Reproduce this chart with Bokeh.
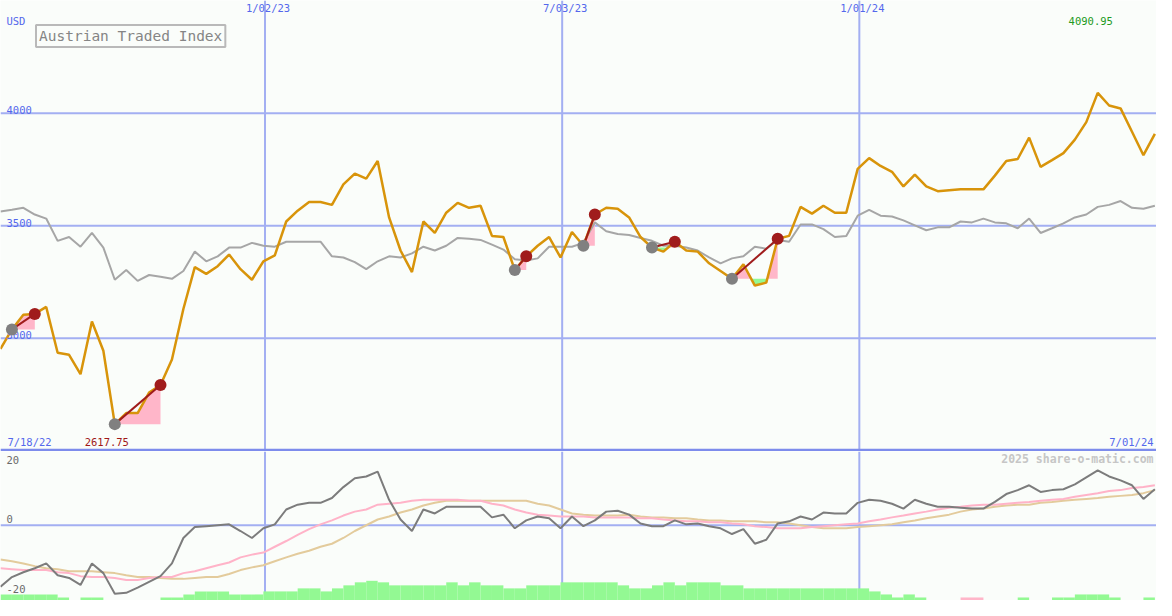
import numpy as np
import pandas as pd
from bokeh.plotting import figure
from bokeh.models import Span, Label, Range1d
from bokeh.layouts import column
from bokeh.embed import file_html
from bokeh.resources import INLINE
from bokeh.core.properties import value

# ---------------- data ----------------
first_date = "2022-07-24"
dates = pd.date_range(first_date, periods=102, freq="7D")

price = [2952, 3039, 3104, 3108, 3139, 2935, 2926, 2840, 3074, 2944,
         2617.75, 2667, 2667, 2758, 2792, 2905, 3130, 3316, 3286, 3320,
         3372, 3307, 3260, 3342, 3368, 3519, 3567, 3606, 3606, 3593,
         3684, 3732, 3710, 3788, 3537, 3390, 3294, 3519, 3468, 3558,
         3602, 3580, 3589, 3455, 3450, 3303, 3364, 3411, 3450, 3359,
         3472, 3411, 3550, 3580, 3576, 3537, 3450, 3403, 3385, 3429,
         3390, 3385, 3333, 3299, 3264, 3329, 3234, 3247, 3442, 3455,
         3584, 3554, 3589, 3558, 3558, 3753, 3801, 3766, 3740, 3675,
         3727, 3675, 3654, 3658, 3662, 3662, 3662, 3723, 3788, 3797,
         3892, 3762, 3792, 3823, 3883, 3961, 4090.95, 4035, 4022, 3918,
         3814, 3909]

compare = [3563, 3571, 3580, 3550, 3532, 3433, 3450, 3407, 3468, 3403,
           3260, 3303, 3255, 3281, 3273, 3264, 3299, 3385, 3342, 3364,
           3403, 3403, 3424, 3411, 3407, 3429, 3429, 3429, 3429, 3364,
           3359, 3338, 3307, 3342, 3364, 3359, 3377, 3407, 3390, 3411,
           3446, 3442, 3437, 3416, 3394, 3351, 3346, 3355, 3407, 3407,
           3407, 3424, 3515, 3476, 3463, 3459, 3446, 3433, 3411, 3411,
           3403, 3390, 3359, 3333, 3355, 3364, 3407, 3398, 3437, 3429,
           3506, 3506, 3485, 3450, 3455, 3545, 3571, 3545, 3541, 3524,
           3502, 3480, 3493, 3493, 3519, 3515, 3532, 3515, 3511, 3489,
           3532, 3468, 3489, 3511, 3537, 3550, 3584, 3593, 3610, 3580,
           3576, 3589]

osc = [-20.3, -17.1, -15.5, -14.2, -12.6, -16.5, -17.4, -19.7, -12.6, -15.8,
       -22.6, -22.3, -20.6, -18.7, -16.8, -12.6, -4.2, -0.6, -0.3, 0.0,
       0.3, -1.9, -4.2, -1.0, 0.3, 5.2, 6.8, 7.4, 7.4, 9.0,
       12.6, 15.5, 16.1, 17.7, 8.4, 1.9, -1.9, 5.2, 3.9, 6.1,
       6.1, 6.1, 6.1, 2.6, 3.5, -1.0, 1.6, 2.9, 2.3, -1.0,
       2.9, -0.3, 1.6, 4.5, 4.8, 3.5, 0.6, -0.3, -0.3, 1.6,
       0.3, 0.6, -0.3, -1.0, -2.9, -1.3, -6.1, -4.8, 0.6, 1.3,
       2.9, 1.9, 4.2, 3.9, 3.9, 7.4, 8.4, 8.1, 7.1, 5.5,
       8.4, 7.1, 6.1, 6.1, 5.8, 5.5, 5.5, 7.7, 10.3, 11.6,
       13.2, 11.0, 11.6, 11.9, 13.5, 15.8, 18.1, 16.1, 14.8, 13.2,
       8.7, 11.9]

osc_fast = [-14.2, -14.5, -14.8, -14.8, -14.8, -15.5, -15.8, -16.8, -17.1, -17.1,
            -17.4, -18.1, -18.1, -17.4, -17.1, -17.1, -15.8, -15.2, -14.2, -13.2,
            -12.3, -10.6, -9.7, -9.0, -7.1, -5.2, -3.2, -1.3, 0.3, 1.6,
            3.2, 4.5, 5.2, 6.8, 7.1, 7.4, 8.1, 8.4, 8.4, 8.4,
            8.4, 8.1, 8.1, 7.1, 6.5, 5.2, 4.2, 3.5, 3.2, 2.9,
            2.9, 2.9, 2.6, 2.6, 2.6, 2.6, 2.3, 2.3, 1.9, 1.6,
            1.3, 1.3, 1.0, 1.0, 0.6, 0.3, -0.3, -0.6, -1.0, -1.0,
            -1.0, -0.6, -0.3, 0.0, 0.3, 0.6, 1.3, 1.9, 2.6, 3.2,
            3.9, 4.5, 5.2, 5.8, 6.1, 6.5, 6.8, 6.8, 7.1, 7.4,
            7.7, 8.1, 8.4, 8.7, 9.4, 10.0, 10.6, 11.3, 11.6, 12.3,
            12.6, 13.2]

osc_slow = [-11.3, -11.9, -12.6, -13.5, -14.2, -14.5, -15.2, -15.2, -15.2, -15.5,
            -15.8, -16.5, -17.1, -17.1, -17.4, -17.7, -17.7, -17.4, -17.1, -17.1,
            -16.1, -14.8, -13.9, -13.2, -11.9, -10.6, -9.4, -8.4, -7.1, -6.1,
            -4.2, -1.9, 0.0, 1.9, 2.9, 4.2, 5.2, 6.5, 7.4, 8.1,
            8.1, 8.1, 8.1, 8.1, 8.1, 8.1, 8.1, 7.1, 6.5, 5.2,
            3.9, 3.5, 3.2, 3.2, 3.2, 3.5, 2.9, 2.6, 2.6, 2.3,
            2.3, 1.9, 1.6, 1.6, 1.3, 1.3, 1.3, 1.0, 1.0, 0.6,
            0.0, -0.6, -1.0, -1.0, -1.0, -0.6, -0.3, 0.0, 0.3, 1.0,
            1.6, 2.3, 2.9, 3.5, 4.5, 5.2, 5.5, 6.1, 6.5, 6.8,
            6.8, 7.4, 7.7, 8.1, 8.4, 8.7, 9.0, 9.4, 9.7, 10.0,
            10.6, 11.6]

strength = [2, 2, 2, 2, 2, 1, 0, 1, 1, 0,
            0, 0, 0, 0, 1, 1, 2, 3, 3, 3,
            2, 2, 2, 3, 3, 3, 4, 4, 3, 4,
            5, 6, 6.5, 6, 5, 5, 5, 5, 5, 6,
            5, 6, 5, 5, 4, 4, 5, 5, 5, 6,
            6, 6, 6, 6, 5, 4, 4, 5, 6, 5,
            6, 6, 6, 5, 5, 4, 4, 4, 4, 4,
            4, 4, 4, 4, 4, 4, 3, 2, 1, 2,
            1, 0, 0, 0, -1, -1, 0, 0, 0, 1,
            0, 0, 1, 1, 2, 2, 2, 1, 0, 0,
            1, 0]

signal_start = ["2022-07-31", "2022-10-02", "2023-06-04", "2023-07-16", "2023-08-27", "2023-10-15"]
signal_end = ["2022-08-14", "2022-10-30", "2023-06-11", "2023-07-23", "2023-09-10", "2023-11-12"]

price_ticks = [4000, 3500, 3000]
osc_ticks = [20, 0, -20]
date_lines = ["2023-01-02", "2023-07-03", "2024-01-01"]
date_line_labels = ["1/02/23", "7/03/23", "1/01/24"]
first_label = "7/18/22"
last_label = "7/01/24"
last_date = "2024-07-01"
title = "Austrian Traded Index"
currency = "USD"
credit = "2025 share-o-matic.com"

# ---------------- styling ----------------
W, H1, H2 = 1156, 451, 149
SX = W / 1172.0
SY1 = H1 / 463.5
SY2 = H2 / 152.5
BG = "#fafdfa"
GRID = "#a3aff2"
SEP = "#7d8cec"
BLUE_TXT = "#5468ec"
GOLD = "#d8940a"
GREY_LINE = "#a6a6a6"
DARK_RED = "#a01c1c"
PINK = "#ffb6c9"
GREEN = "#93f993"
MONO_NAME = "DejaVu Sans Mono"
MONO = value(MONO_NAME)


def ms(d):
    return pd.Timestamp(d).value / 1e6


xs = np.array([ms(d) for d in dates])
x0, x1 = ms(first_date), ms(last_date)
week = 7 * 24 * 3600 * 1000.0


def mkfig(h, yr):
    p = figure(width=W, height=h, x_range=Range1d(x0, x1), y_range=Range1d(*yr),
               toolbar_location=None, output_backend="svg", x_axis_location=None,
               y_axis_location=None, min_border=0, background_fill_color=BG,
               border_fill_color=BG)
    p.outline_line_color = None
    p.grid.visible = False
    return p


# ---------------- top panel ----------------
top = mkfig(H1, (2496, 4502))
for t in price_ticks:
    top.add_layout(Span(location=t, dimension="width", line_color=GRID, line_width=2, level="underlay"))
for d in date_lines:
    top.add_layout(Span(location=ms(d), dimension="height", line_color=GRID, line_width=2, level="underlay"))

price_arr = np.array(price, dtype=float)
idx = {pd.Timestamp(d): i for i, d in enumerate(dates)}

for s, e in zip(signal_start, signal_end):
    a, b = idx[pd.Timestamp(s)], idx[pd.Timestamp(e)]
    base = price_arr[a]
    px, py = [xs[a]], [price_arr[a]]
    for k in range(a + 1, b + 1):
        ya, yb = price_arr[k - 1], price_arr[k]
        if (ya - base) * (yb - base) < 0:
            t = (base - ya) / (yb - ya)
            px.append(xs[k - 1] + t * (xs[k] - xs[k - 1]))
            py.append(base)
        px.append(xs[k])
        py.append(yb)
    py = np.array(py)
    top.varea(x=px, y1=[base] * len(px), y2=np.maximum(py, base), fill_color=PINK)
    top.varea(x=px, y1=np.minimum(py, base), y2=[base] * len(px), fill_color=GREEN)

top.line(xs, compare, line_color=GREY_LINE, line_width=2)
top.line(xs, price, line_color=GOLD, line_width=2.5)

top.text(x=[x0] * len(price_ticks), y=price_ticks, text=[str(t) for t in price_ticks],
         x_offset=6, y_offset=-3, text_font=MONO, text_font_size="10.5px",
         text_color=BLUE_TXT, text_baseline="alphabetic")

for s, e in zip(signal_start, signal_end):
    a, b = idx[pd.Timestamp(s)], idx[pd.Timestamp(e)]
    top.line([xs[a], xs[b]], [price[a], price[b]], line_color=DARK_RED, line_width=2)
sa = [idx[pd.Timestamp(s)] for s in signal_start]
sb = [idx[pd.Timestamp(e)] for e in signal_end]
top.scatter([xs[i] for i in sa], [price[i] for i in sa], size=12, fill_color="#808080", line_color=None)
top.scatter([xs[i] for i in sb], [price[i] for i in sb], size=12, fill_color=DARK_RED, line_color=None)

top.add_layout(Span(location=2502, dimension="width", line_color=SEP, line_width=3))


def lab(p, H, SY, text, xpx, ypx, color, size="10.5px", align="left", xdata=None, xoff=0, **kw):
    if xdata is None:
        l = Label(x=xpx * SX, y=H - ypx * SY, x_units="screen", y_units="screen", text=text,
                  text_color=color, text_font=MONO_NAME, text_font_size=size, text_align=align,
                  text_baseline="middle", **kw)
    else:
        l = Label(x=xdata, y=H - ypx * SY, x_units="data", y_units="screen", text=text,
                  x_offset=xoff, text_color=color, text_font=MONO_NAME, text_font_size=size,
                  text_align=align, text_baseline="middle", **kw)
    p.add_layout(l)


lab(top, H1, SY1, currency, 6, 21, BLUE_TXT)
for d, t in zip(date_lines, date_line_labels):
    lab(top, H1, SY1, t, 0, 8, BLUE_TXT, align="center", xdata=ms(d), xoff=3)
lab(top, H1, SY1, first_label, 7, 454, BLUE_TXT)
lab(top, H1, SY1, last_label, 1169, 454, BLUE_TXT, align="right")
imin = int(np.argmin(price_arr))
imax = int(np.argmax(price_arr))
lab(top, H1, SY1, f"{price[imin]:.2f}", 0, 454, "#a01818", align="center", xdata=xs[imin], xoff=-8)
lab(top, H1, SY1, f"{price[imax]:.2f}", 0, 21, "#229a22", align="center", xdata=xs[imax], xoff=-7)
top.add_layout(Label(x=36 * SX, y=H1 - 36.5 * SY1, x_units="screen", y_units="screen", text=title,
                     text_color="#858585", text_font=MONO_NAME, text_font_size="14.5px",
                     text_baseline="middle", text_align="left",
                     border_line_color="#b9b9b9", border_line_width=2,
                     background_fill_color=BG, padding=3))

# ---------------- bottom panel ----------------
ylo, yhi = -24.84, 24.35
bot = mkfig(H2, (ylo, yhi))
bot.add_layout(Span(location=0, dimension="width", line_color=GRID, line_width=2, level="underlay"))
for d in date_lines:
    bot.add_layout(Span(location=ms(d), dimension="height", line_color=GRID, line_width=2, level="underlay"))

st = np.array(strength, dtype=float)
bar_col = [GREEN if v > 0 else PINK for v in st]
bot.vbar(x=xs + week / 2, width=week, bottom=ylo, top=ylo + np.abs(st),
         fill_color=bar_col, line_color=None)
bot.line(xs, osc_slow, line_color="#e3cb9c", line_width=2)
bot.line(xs, osc_fast, line_color="#ffb3c8", line_width=2)
bot.line(xs, osc, line_color="#7c7c7c", line_width=2)

bot.text(x=[x0] * 3, y=osc_ticks, text=[str(t) for t in osc_ticks], x_offset=6,
         y_offset=[-5, -6, 3], text_font=MONO, text_font_size="10.5px",
         text_color="#6a6a6a", text_baseline="middle")
lab(bot, H2, SY2, credit, 1169, 7.5, "#c6c6c6", size="11.5px", align="right", text_font_style="bold")

layout = column(top, bot, spacing=0)
open("out.html", "w").write(file_html(layout, INLINE))
